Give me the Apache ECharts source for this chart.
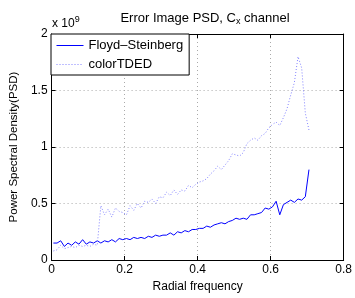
<!DOCTYPE html>
<html>
<head>
<meta charset="utf-8">
<script src="https://cdn.jsdelivr.net/npm/echarts@6/dist/echarts.min.js"></script>
<style>
  html, body { margin: 0; padding: 0; background: #fff; }
  #chart { width: 355px; height: 298px; }
</style>
</head>
<body>
<div id="chart"></div>
<script>
// radial frequency samples
const freq = [
  0.005, 0.015, 0.025, 0.035, 0.045, 0.055, 0.065, 0.075, 0.085, 0.095,
  0.105, 0.115, 0.125, 0.135, 0.145, 0.155, 0.165, 0.175, 0.185, 0.195,
  0.205, 0.215, 0.225, 0.235, 0.245, 0.255, 0.265, 0.275, 0.285, 0.295,
  0.305, 0.315, 0.325, 0.335, 0.345, 0.355, 0.365, 0.375, 0.385, 0.395,
  0.405, 0.415, 0.425, 0.435, 0.445, 0.455, 0.465, 0.475, 0.485, 0.495,
  0.505, 0.515, 0.525, 0.535, 0.545, 0.555, 0.565, 0.575, 0.585, 0.595,
  0.605, 0.615, 0.625, 0.635, 0.645, 0.655, 0.665, 0.675, 0.685, 0.695,
  0.705
];
// PSD, in units of 1e9
const floydSteinberg = [
  0.15, 0.15, 0.17, 0.12, 0.15, 0.13, 0.16, 0.14, 0.18, 0.14,
  0.16, 0.15, 0.17, 0.15, 0.17, 0.16, 0.18, 0.16, 0.19, 0.18,
  0.19, 0.18, 0.20, 0.19, 0.20, 0.19, 0.21, 0.20, 0.22, 0.21,
  0.22, 0.22, 0.24, 0.22, 0.25, 0.24, 0.26, 0.25, 0.27, 0.27,
  0.28, 0.28, 0.30, 0.29, 0.31, 0.32, 0.33, 0.32, 0.34, 0.35,
  0.37, 0.36, 0.37, 0.36, 0.40, 0.40, 0.41, 0.42, 0.46, 0.45,
  0.47, 0.52, 0.40, 0.49, 0.51, 0.53, 0.51, 0.54, 0.53, 0.56,
  0.80
];
const colorTDED = [
  0.08, 0.09, 0.13, 0.10, 0.11, 0.12, 0.11, 0.13, 0.12, 0.13,
  0.12, 0.14, 0.13, 0.48, 0.40, 0.45, 0.38, 0.46, 0.43, 0.42,
  0.40, 0.48, 0.44, 0.50, 0.46, 0.52, 0.51, 0.54, 0.50, 0.56,
  0.55, 0.60, 0.57, 0.62, 0.58, 0.62, 0.61, 0.66, 0.64, 0.67,
  0.69, 0.70, 0.72, 0.76, 0.79, 0.83, 0.80, 0.84, 0.88, 0.94,
  0.93, 0.92, 0.95, 1.03, 1.06, 1.08, 1.06, 1.10, 1.12, 1.17,
  1.20, 1.22, 1.19, 1.26, 1.34, 1.46, 1.57, 1.80, 1.70, 1.30,
  1.15
];

const blue = '#0000ff';
const lightBlue = '#8080ff';
const font = 'Liberation Sans, Arial, Helvetica, sans-serif';
const chart = echarts.init(document.getElementById('chart'));

const zip = (ys) => freq.map((x, i) => [x, ys[i]]);

const boxAxis = {
  axisLine: { show: true, onZero: false, lineStyle: { color: '#000', width: 1 } },
  axisTick: { show: true, inside: true, length: 4, lineStyle: { color: '#000' } },
};

chart.setOption({
  animation: false,
  title: {
    text: 'Error Image PSD, C{sub|x} channel',
    left: 200,
    top: 6,
    textAlign: 'center',
    textStyle: {
      fontFamily: font, fontSize: 13, fontWeight: 'normal', color: '#000',
      rich: { sub: { fontFamily: font, fontSize: 9, verticalAlign: 'bottom', padding: [6, 0, 0, 0] } }
    }
  },
  graphic: [{
    type: 'text',
    left: 52,
    top: 15,
    style: {
      text: 'x 10{sup|9}',
      fontFamily: font, fontSize: 12, fill: '#000',
      rich: { sup: { fontFamily: font, fontSize: 9, verticalAlign: 'top', padding: [0, 0, 8, 0] } }
    }
  }],
  legend: {
    left: 51,
    top: 34,
    orient: 'vertical',
    backgroundColor: '#fff',
    borderColor: '#000',
    borderWidth: 1,
    padding: [5, 6, 4, 5],
    itemWidth: 27,
    itemHeight: 10,
    itemGap: 6,
    itemStyle: { color: 'rgba(0,0,0,0)', borderColor: 'rgba(0,0,0,0)', borderWidth: 0 },
    textStyle: { fontFamily: font, fontSize: 13, color: '#000' },
    data: [
      { name: 'Floyd\u2013Steinberg', lineStyle: { color: blue, width: 1, opacity: 1 } },
      { name: 'colorTDED', lineStyle: { color: lightBlue, width: 1, type: [1, 2], opacity: 1 } }
    ]
  },
  grid: { left: 51, right: 6, top: 34, bottom: 35 },
  xAxis: [{
    type: 'value', min: 0, max: 0.8, interval: 0.2,
    name: 'Radial frequency', nameLocation: 'middle', nameGap: 21,
    nameTextStyle: { fontFamily: font, fontSize: 12, color: '#000' },
    ...boxAxis,
    axisLabel: { fontFamily: font, fontSize: 12, color: '#000', margin: 4, formatter: (v) => String(+v.toFixed(1)) },
    splitLine: { show: true, lineStyle: { color: '#aaa', type: [1, 3] } }
  }, {
    type: 'value', position: 'top', min: 0, max: 0.8, interval: 0.2,
    ...boxAxis, axisLabel: { show: false }, splitLine: { show: false }
  }],
  yAxis: [{
    type: 'value', min: 0, max: 2, interval: 0.5,
    name: 'Power Spectral Density(PSD)', nameLocation: 'middle', nameGap: 22,
    nameTextStyle: { fontFamily: font, fontSize: 11.5, color: '#000' },
    ...boxAxis,
    axisLabel: { fontFamily: font, fontSize: 12, color: '#000', margin: 4 },
    splitLine: { show: true, lineStyle: { color: '#aaa', type: [1, 3] } }
  }, {
    type: 'value', position: 'right', min: 0, max: 2, interval: 0.5,
    ...boxAxis, axisLabel: { show: false }, splitLine: { show: false }
  }],
  series: [{
    name: 'Floyd\u2013Steinberg',
    type: 'line',
    showSymbol: false,
    symbol: 'none',
    color: blue,
    lineStyle: { color: blue, width: 1 },
    data: zip(floydSteinberg)
  }, {
    name: 'colorTDED',
    type: 'line',
    showSymbol: false,
    symbol: 'none',
    color: lightBlue,
    lineStyle: { color: lightBlue, width: 1, type: [1, 2] },
    data: zip(colorTDED)
  }]
});
</script>
</body>
</html>
